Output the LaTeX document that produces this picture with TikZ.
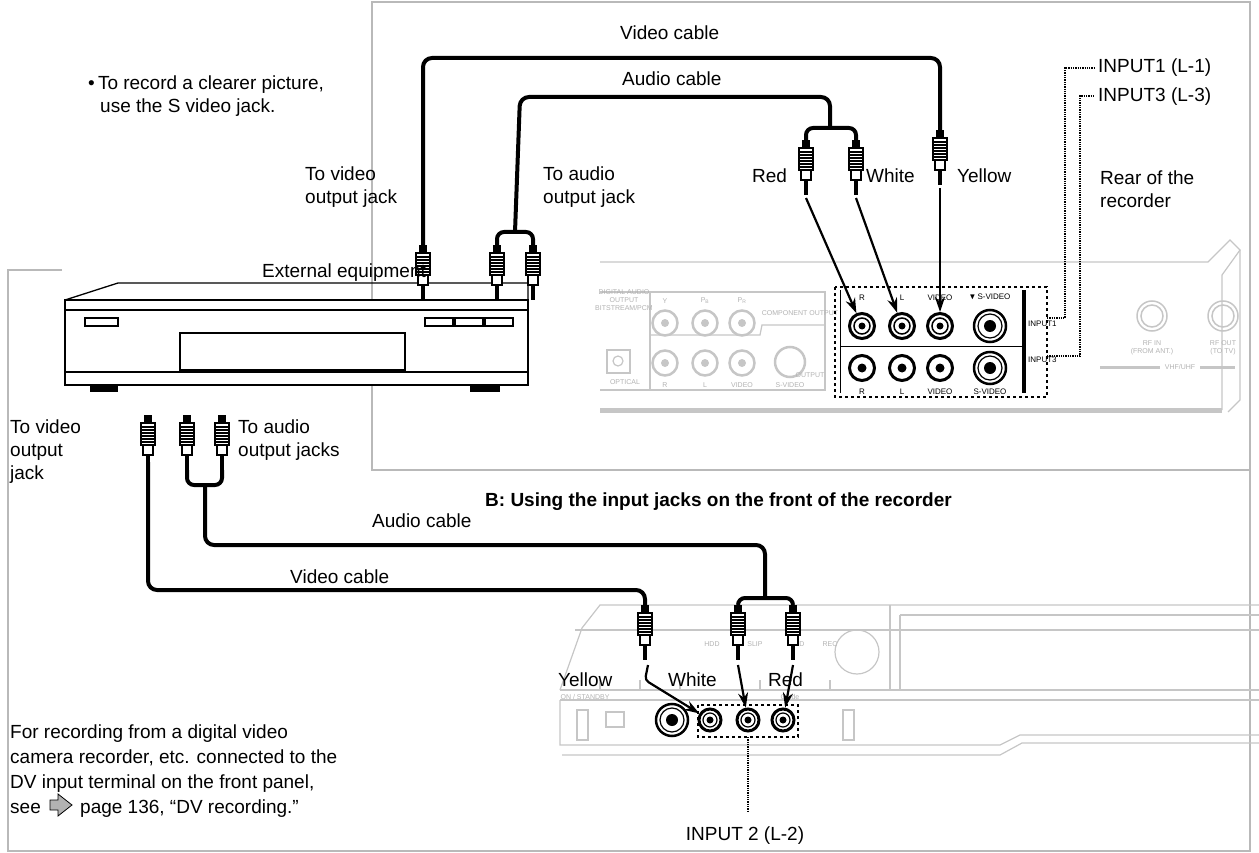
\documentclass[tikz,border=0pt]{standalone}
\usepackage{amssymb}
\usepackage{fontspec}
\setmainfont{Liberation Sans}
\usetikzlibrary{arrows.meta}
\usetikzlibrary{calc,positioning}

\begin{document}
\begin{tikzpicture}[x=1pt,y=-1pt,font=\fontsize{19}{22}\selectfont]
	\tikzstyle{frame}=[draw=gray!55, line width=1.3]
	\tikzstyle{dev}=[draw=gray!45, line width=1.2]
	\tikzstyle{faint}=[text=gray!60, font=\fontsize{7}{8}\selectfont, inner sep=0]
	\tikzstyle{tiny}=[font=\fontsize{8}{9}\selectfont, inner sep=0]
	\tikzstyle{cable}=[line width=4, rounded corners=9]
	\tikzstyle{lead}=[line width=2.2, -{Stealth[length=15, width=10]}]
	\tikzstyle{jack}=[circle, draw, line width=3, minimum size=25, inner sep=0]
	\tikzstyle{gjack}=[circle, draw=gray!45, line width=2.5, minimum size=25, inner sep=0]
	\tikzstyle{lbl}=[anchor=base west, inner sep=0]
	\tikzset{plug/.pic={
		\fill (-4,0) rectangle (4,8);
		\draw[fill=white, line width=1.2] (-7,8) rectangle (7,30);
		\foreach \y in {12,15,...,27} \draw[line width=1.2] (-7,\y) -- (7,\y);
		\draw[fill=white, line width=1.2] (-5,30) rectangle (5,40);
		\fill (-1.6,40) rectangle (1.6,55);
	}}
	\useasboundingbox (0,0) rectangle (1259,853);

	% frames
	\draw[frame] (372,2) rectangle (1250,470);
	\draw[frame] (62,270) -- (8,270) -- (8,851) -- (1250,851) -- (1250,470);

	% rear panel of the recorder
	\draw[dev] (600,262) -- (1208,262) -- (1230,240) -- (1240,250) -- (1222,275) -- (1222,410);
	\draw[dev, line width=5] (600,410) -- (1222,410);
	\draw[dev] (1240,250) -- (1240,400) -- (1228,412);
	\draw[dev] (650,292) -- (825,292) -- (825,390) -- (650,390) -- cycle;
	\draw[dev] (650,335) -- (760,335) -- (762,325) -- (825,325);
	\draw[dev] (600,292) -- (650,292) (600,390) -- (650,390);
	\foreach \x/\t in {665/Y,705/P\textsubscript{B},742/P\textsubscript{R}} {
		\node[gjack] at (\x,323) {};
		\fill[gray!45] (\x,323) circle (4);
		\node[faint] at (\x,301) {\t};
	}
	\foreach \x/\t in {665/R,705/L,742/VIDEO} {
		\node[gjack] at (\x,363) {};
		\fill[gray!45] (\x,363) circle (4);
		\node[faint] at (\x,385) {\t};
	}
	\draw[gray!45, line width=2.5] (790,362) circle (15);
	\node[faint] at (790,385) {S-VIDEO};
	\node[faint] at (800,313) {COMPONENT OUTPUT};
	\node[faint] at (810,375) {OUTPUT};
	\node[faint, align=center] at (624,300) {DIGITAL AUDIO\\OUTPUT\\BITSTREAM/PCM};
	\draw[dev] (607,350) rectangle (630,373);
	\draw[dev] (618,361) circle (5);
	\node[faint] at (625,382) {OPTICAL};
	\foreach \x/\t in {1152/{RF IN\\(FROM ANT.)},1223/{RF OUT\\(TO TV)}} {
		\draw[gray!45, line width=1.5] (\x,316) circle (15) (\x,316) circle (11);
		\node[faint, align=center] at (\x,348) {\t};
	}
	\node[faint] at (1180,367) {VHF/UHF};
	\draw[dev, line width=3] (1100,367) -- (1160,367) (1200,367) -- (1235,367);

	% rear input jacks
	\draw[line width=4] (1024,290) -- (1024,393);
	\draw[line width=1] (840,346) -- (1024,346);
	\draw[line width=1] (840,290) -- (840,393);
	\foreach \n/\x in {R/862,L/902,V/940} {
		\node[jack] (up\n) at (\x,326) {};
		\draw[line width=1.5] (up\n) circle (8);
		\fill (up\n) circle (3.5);
		\node[jack] (lo\n) at (\x,368) {};
		\fill (lo\n) circle (4.5);
	}
	\foreach \y/\p in {326/upS,368/loS} {
		\draw[line width=2.5] (990,\y) circle (16);
		\draw[line width=1.2] (990,\y) circle (12);
		\fill (990,\y) circle (6);
	}
	\foreach \x/\t in {862/R,902/L,940/VIDEO} {
		\node[tiny] at (\x,298) {\t};
		\node[tiny] at (\x,392) {\t};
	}
	\node[tiny] at (990,297) {$\blacktriangledown$ S-VIDEO};
	\node[tiny] at (990,392) {S-VIDEO};
	\node[tiny, anchor=west] (in1) at (1028,324) {INPUT1};
	\node[tiny, anchor=west] (in3) at (1028,360) {INPUT3};
	\draw[dashed, line width=1.3] (835,287) rectangle (1047,397);
	\draw[densely dotted, line width=1.3] (1047,318) -- (1065,318) -- (1065,68) -- (1095,68);
	\draw[densely dotted, line width=1.3] (1047,356) -- (1080,356) -- (1080,96) -- (1095,96);

	% external equipment
	\draw[line width=1.3] (65,300) -- (118,283) -- (528,283) -- (528,300);
	\draw[line width=1.3, fill=white] (65,300) rectangle (528,385);
	\draw[line width=1.3] (65,310) -- (528,310);
	\draw[line width=1.3] (65,372) -- (528,372);
	\draw[line width=1.3] (180,333) rectangle (405,370);
	\draw[line width=1.3] (85,318) rectangle (118,326);
	\foreach \x in {425,455,485} \draw[line width=1.3] (\x,318) rectangle (\x+28,326);
	\fill (90,385) rectangle (118,392);
	\fill (470,385) rectangle (500,392);

	% front panel of the recorder
	\draw[dev] (560,690) -- (582,628) -- (600,605) -- (1259,605);
	\draw[dev] (575,630) -- (1259,630);
	\draw[dev] (560,690) -- (1259,690);
	\draw[dev] (560,700) -- (1259,700);
	\draw[dev] (560,700) -- (560,745) -- (1000,745) -- (1020,735) -- (1259,735);
	\draw[dev] (562,755) -- (1000,755) -- (1022,743) -- (1259,743);
	\draw[dev] (890,605) -- (890,690);
	\draw[dev] (900,615) -- (1259,615);
	\draw[dev] (900,615) -- (900,690);
	\draw[gray!45, line width=1.2] (857,652) circle (22);
	\foreach \x in {600,640,680,760,830} \draw[dev] (\x,680) -- (\x,690);
	\draw[dev] (606,712) rectangle (624,727);
	\draw[dev] (577,710) rectangle (588,740);
	\draw[dev] (843,710) rectangle (854,740);
	\foreach \x/\t in {712/HDD,755/SLIP,797/DVD,830/REC} \node[faint] at (\x,644) {\t};
	\node[faint] at (585,697) {ON / STANDBY};
	\node[faint] at (790,697) {Guide};

	% front input jacks
	\draw[line width=2.5] (672,720) circle (16);
	\draw[line width=1.2] (672,720) circle (12);
	\fill (672,720) circle (6);
	\foreach \n/\x in {V/710,W/748,R/783} {
		\node[jack, minimum size=22] (fr\n) at (\x,720) {};
		\draw[line width=1.2] (fr\n) circle (7);
		\fill (fr\n) circle (3.5);
	}
	\draw[dashed, line width=1.3] (698,705) rectangle (798,737);
	\coordinate (in2) at (748,737);
	\draw[densely dotted, line width=1.3] (in2) -- ++(0,75);

	% cables, top
	\draw[cable] (423,245) -- (423,58) -- (940,58) -- (940,130);
	\draw[cable] (515,232) -- (520,97) -- (830,97) -- (830,128);
	\draw[line width=4, rounded corners=7] (497,245) -- (497,232) -- (533,232) -- (533,245);
	\draw[line width=4, rounded corners=7] (806,140) -- (806,128) -- (856,128) -- (856,140);
	\foreach \x/\y in {423/245,497/245,533/245,806/140,856/140,940/130} \pic at (\x,\y) {plug};
	\coordinate (pR) at (806,198);
	\coordinate (pW) at (856,198);
	\coordinate (pY) at (940,188);
	\draw[lead] (pR) -- (upR);
	\draw[lead] (pW) -- (upL);
	\draw[lead] (pY) -- (upV);

	% cables, bottom
	\draw[cable] (148,462) -- (148,590) -- (645,590) -- (645,605);
	\draw[line width=4, rounded corners=7] (187,470) -- (187,485) -- (222,485) -- (222,470);
	\draw[cable] (205,485) -- (205,545) -- (765,545) -- (765,598);
	\draw[line width=4, rounded corners=7] (738,605) -- (738,598) -- (793,598) -- (793,605);
	\foreach \x/\y in {148/415,187/415,222/415,645/605,738/605,793/605} \pic at (\x,\y) {plug};
	\coordinate (qY) at (648,665);
	\coordinate (qW) at (738,665);
	\coordinate (qR) at (793,665);
	\draw[lead, rounded corners=4] (qY) -- (645,680) -- (frV);
	\draw[lead] (qW) -- (frW);
	\draw[lead] (qR) -- (frR);

	% labels
	\node[lbl] at (620,40) {Video cable};
	\node[lbl] at (622,86) {Audio cable};
	\node[lbl] at (88,90) {\textbullet\,To record a clearer picture,};
	\node[lbl] at (100,113) {use the S video jack.};
	\node[lbl] at (305,181) {To video};
	\node[lbl] at (305,204) {output jack};
	\node[lbl] at (543,181) {To audio};
	\node[lbl] at (543,204) {output jack};
	\node[lbl] at (752,183) {Red};
	\node[lbl] at (866,183) {White};
	\node[lbl] at (957,183) {Yellow};
	\node[lbl] at (1100,185) {Rear of the};
	\node[lbl] at (1100,208) {recorder};
	\node[lbl] at (1098,73) {INPUT1 (L-1)};
	\node[lbl] at (1098,102) {INPUT3 (L-3)};
	\node[lbl] at (262,277) {External equipment};
	\node[lbl] at (10,433) {To video};
	\node[lbl] at (10,456) {output};
	\node[lbl] at (10,479) {jack};
	\node[lbl] at (238,433) {To audio};
	\node[lbl] at (238,456) {output jacks};
	\node[lbl] at (372,527) {Audio cable};
	\node[lbl, font=\fontsize{19}{22}\selectfont\bfseries] at (485,506) {B: Using the input jacks on the front of the recorder};
	\node[lbl] at (290,583) {Video cable};
	\node[lbl] at (558,686) {Yellow};
	\node[lbl] at (668,686) {White};
	\node[lbl] at (768,686) {Red};
	\node[lbl] at (10,738) {For recording from a digital video};
	\node[lbl] at (10,763) {camera recorder, etc. connected to the};
	\node[lbl] at (10,788) {DV input terminal on the front panel,};
	\node[lbl] (see) at (10,813) {see};
	\draw[fill=gray!60, line width=0.8] (50,800) -- (58,800) -- (58,794) -- (72,805) -- (58,816) -- (58,810) -- (50,810) -- cycle;
	\node[lbl] at (80,813) {page 136, “DV recording.”};
	\node[anchor=base] at (745,840) {INPUT 2 (L-2)};
\end{tikzpicture}
\end{document}
